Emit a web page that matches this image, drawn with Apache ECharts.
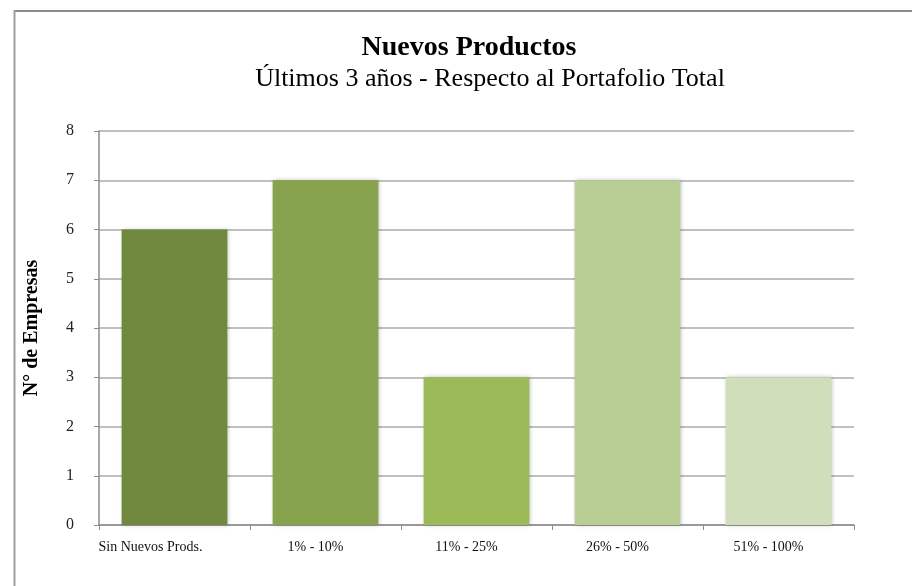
<!DOCTYPE html>
<html>
<head>
<meta charset="utf-8">
<script src="https://cdn.jsdelivr.net/npm/echarts@6/dist/echarts.min.js"></script>
<style>
html,body{margin:0;padding:0;background:#fff;}
#c{width:912px;height:586px;}
</style>
</head>
<body>
<div id="c"></div>
<script>
var categories = ['Sin Nuevos Prods.', '1% - 10%', '11% - 25%', '26% - 50%', '51% - 100%'];
var values = [6, 7, 3, 7, 3];
var barColors = ['#71893F', '#88A34D', '#9BBB59', '#B9CE95', '#D1DEBB'];
var yTicks = [0, 1, 2, 3, 4, 5, 6, 7, 8];

var chart = echarts.init(document.getElementById('c'), null, {renderer: 'canvas'});
var serif = '"Liberation Serif", "Times New Roman", serif';
chart.setOption({
  animation: false,
  backgroundColor: '#ffffff',
  graphic: [
    {type: 'line', shape: {x1: 14, y1: 11, x2: 912, y2: 11}, style: {stroke: '#8c8c8c', lineWidth: 2}},
    {type: 'line', shape: {x1: 14.5, y1: 10, x2: 14.5, y2: 586}, style: {stroke: '#a0a0a0', lineWidth: 2}},
    {type: 'text', x: 469, y: 34, style: {text: 'Nuevos Productos', font: 'bold 28px ' + serif, fill: '#000', textAlign: 'center'}},
    {type: 'text', x: 490, y: 66, style: {text: 'Últimos 3 años - Respecto al Portafolio Total', font: '26px ' + serif, fill: '#000', textAlign: 'center'}}
  ],
  grid: {left: 99, right: 58, top: 131, bottom: 61},
  xAxis: {
    type: 'category',
    data: categories,
    axisLine: {show: true, lineStyle: {color: '#8c8c8c', width: 1.5}},
    axisTick: {show: true, interval: 0, alignWithLabel: false, length: 5, lineStyle: {color: '#8c8c8c'}},
    axisLabel: {
      interval: 0, hideOverlap: false,
      color: '#111', fontFamily: serif, fontSize: 14, margin: 15,
      formatter: function (v, i) { return i === 0 ? '{a|' + v + '}' : '{b|' + v + '}'; },
      rich: {
        a: {color: '#111', fontFamily: serif, fontSize: 14, padding: [0, 48, 0, 0]},
        b: {color: '#111', fontFamily: serif, fontSize: 14, padding: [0, 20, 0, 0]}
      }
    }
  },
  yAxis: {
    type: 'value',
    min: 0, max: 8, interval: 1,
    name: 'N° de Empresas',
    nameLocation: 'middle',
    nameGap: 57,
    nameRotate: 90,
    nameTextStyle: {color: '#000', fontFamily: serif, fontSize: 20, fontWeight: 'bold'},
    axisLine: {show: true, lineStyle: {color: '#8c8c8c', width: 1.5}},
    axisTick: {show: true, length: 5, lineStyle: {color: '#8c8c8c'}},
    axisLabel: {color: '#222', fontFamily: serif, fontSize: 16, margin: 25,
      formatter: function (v) { return yTicks.indexOf(v) >= 0 ? String(v) : ''; }},
    splitLine: {show: true, lineStyle: {color: '#c0c0c0', width: 2}}
  },
  series: [{
    type: 'bar',
    data: values.map(function (v, i) { return {value: v, itemStyle: {color: barColors[i]}}; }),
    barCategoryGap: '30%',
    itemStyle: {shadowColor: 'rgba(0,0,0,0.25)', shadowBlur: 4, shadowOffsetX: 1}
  }]
});
</script>
</body>
</html>
